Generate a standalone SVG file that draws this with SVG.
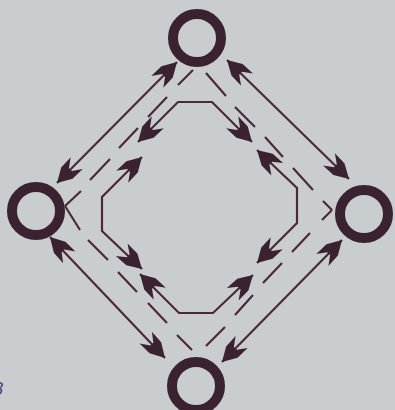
<svg xmlns="http://www.w3.org/2000/svg" width="395" height="410" viewBox="0 0 395 410">
  <style>
    .node circle { fill: none; stroke: #3a2230; stroke-width: 10; }
    .solid { fill: none; stroke: #4a2a3a; stroke-width: 2.2; marker-start: url(#ah); marker-end: url(#ah); }
    .dash { fill: none; stroke: #4a2a3a; stroke-width: 2.2; }
    .fig { font-family: "Liberation Sans", Arial, sans-serif; font-style: italic; font-size: 18px; fill: #4e3f6e; }
  </style>
  <defs>
    <marker id="ah" markerUnits="userSpaceOnUse" orient="auto-start-reverse" refX="0" refY="0" markerWidth="40" markerHeight="20" overflow="visible">
      <path d="M0,0 L-14,-8 L-28,-8.5 L-19,-2 L-19,2 L-28,8.5 L-14,8 Z" fill="#3a2230"/>
    </marker>
  </defs>
  <rect x="0" y="0" width="395" height="410" fill="#cacdd0"/>

  <g id="connectors">
    <!-- outer double-headed solid lines -->
    <path class="solid" d="M177,62 L57,183"/>
    <path class="solid" d="M227,60 L349,179"/>
    <path class="solid" d="M50,237 L165,358"/>
    <path class="solid" d="M342,240 L222,362"/>
    <!-- dashed diamond -->
    <path class="dash" d="M193,70 L178,85 M167,97 L148,117 M138,128 L119,148 M110,159 L90,180 M81,191 L65,206"/>
    <path class="dash" d="M206,73 L226,96 M235,107 L255,127 M265,137 L283,157 M293,168 L313,190 M323,201 L332,210"/>
    <path class="dash" d="M332,210 L322,220 M310,233 L292,252 M282,263 L263,283 M253,295 L235,315 M225,327 L206,346"/>
    <path class="dash" d="M65,206 L80,230 M88,240 L108,260 M118,272 L137,292 M148,303 L167,323 M177,335 L192,350"/>
    <!-- inner octagon arrows -->
    <path class="solid" d="M138,142 L178,102 L212,102 L252,142"/>
    <path class="solid" d="M142,157 L102,197 L102,231 L142,269"/>
    <path class="solid" d="M140,274 L179,313 L213,313 L253,275"/>
    <path class="solid" d="M257,263 L297,223 L297,188 L257,150"/>
  </g>

  <g id="node-top" class="node"><circle cx="197" cy="38" r="24"/></g>
  <g id="node-left" class="node"><circle cx="36" cy="211" r="24"/></g>
  <g id="node-right" class="node"><circle cx="364" cy="214" r="24"/></g>
  <g id="node-bottom" class="node"><circle cx="196" cy="386" r="24"/></g>

  <text class="fig" x="-7" y="395">8</text>
</svg>
